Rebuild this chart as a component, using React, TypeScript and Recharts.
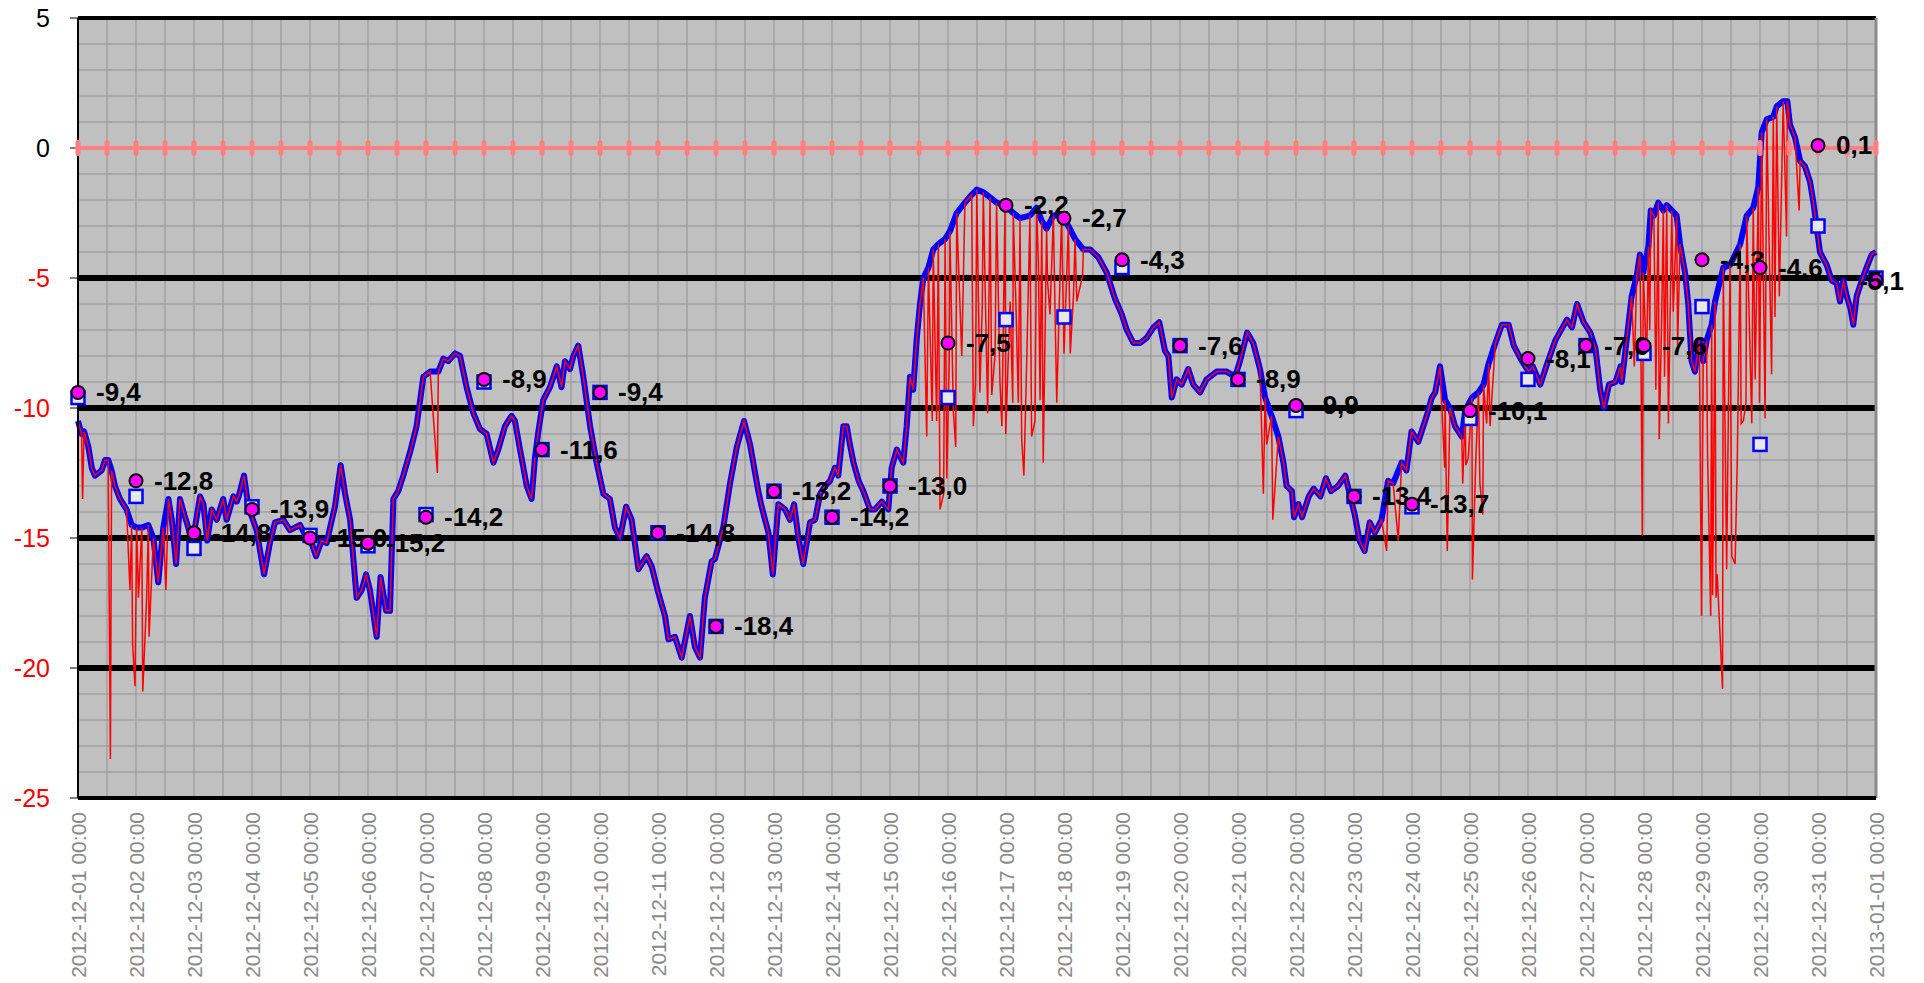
import React from "react";
import {
  ComposedChart,
  Line,
  XAxis,
  YAxis,
  CartesianGrid,
  ReferenceLine,
} from "recharts";

// hours since 2012-12-01 00:00 -> temperature (deg C)
const tempTrace: [number, number][] = [
  [0, -10.5], [1.5, -11.0], [2.5, -10.9], [4.3, -11.5], [5.7, -12.3], [7, -12.6], [9.8, -12.4],
  [11.2, -12.0], [12.5, -12.0], [13.9, -12.4], [15.3, -13.0], [17.4, -13.5], [20.1, -13.9],
  [22.2, -14.5], [24.3, -14.6], [26.4, -14.6], [29.1, -14.5], [31.2, -15.0], [33.2, -16.7],
  [35.3, -14.6], [37.4, -13.5], [38.8, -14.3], [40.6, -16.0], [42.2, -13.5], [44.3, -14.2],
  [46.3, -14.8], [48.4, -14.6], [50.5, -13.4], [51.9, -13.7], [53.5, -15.1], [55.3, -13.9],
  [57.4, -14.3], [60.1, -13.5], [61.5, -14.3], [64.3, -13.4], [65.7, -13.6], [66.5, -13.4],
  [68.7, -12.6], [70.5, -13.8], [73.9, -14.7], [77, -16.4], [79.4, -15.2], [81.5, -14.4],
  [85, -14.3], [87.7, -14.7], [91.9, -14.5], [94.6, -15.0], [96.7, -15.2], [98.5, -15.7],
  [100.8, -15.1], [102.9, -15.2], [104.3, -14.6], [106.3, -13.8], [108.7, -12.2], [110.5, -13.3],
  [112.6, -14.3], [115.3, -17.3], [117.4, -17.0], [119.2, -16.4], [120.8, -17.0], [123.6, -18.8],
  [125.2, -16.5], [127.5, -17.8], [129.1, -17.8], [130.5, -13.5], [132.5, -13.2], [134.6, -12.6],
  [137.4, -11.7], [140.1, -10.7], [142.9, -8.8], [145.7, -8.6], [149.1, -8.6], [151.2, -8.1],
  [153.2, -8.2], [156, -7.9], [158.1, -8.0], [160.8, -9.2], [163.6, -10.2], [166.3, -10.8],
  [169.1, -11.0], [171.9, -12.1], [173.9, -11.6], [176.7, -10.7], [179.4, -10.3], [180.8, -10.5],
  [182.9, -11.6], [185.7, -13.0], [187.7, -13.5], [189.1, -11.9], [190.5, -10.9], [192.5, -9.7],
  [195.3, -9.2], [198.1, -8.4], [200.1, -9.2], [201.5, -8.2], [203.6, -8.5], [205, -8.0],
  [207, -7.6], [209.1, -8.8], [211.9, -10.7], [214.6, -12.1], [217.4, -13.3], [220.1, -13.5],
  [222.2, -14.6], [224.3, -15.0], [226.8, -13.8], [229.1, -14.3], [231.9, -16.2], [235.3, -15.7],
  [237.4, -16.1], [240.1, -17.1], [242.9, -18.0], [244.3, -18.9], [247, -18.8], [249.8, -19.6],
  [253.2, -18.0], [255.3, -19.2], [257.4, -19.6], [259.4, -17.3], [262.2, -15.9], [263.6, -15.8],
  [267, -14.6], [269.8, -12.9], [272.6, -11.5], [275.6, -10.5], [278.1, -11.4], [281.5, -13.2],
  [282.9, -13.8], [285.7, -14.8], [287.5, -16.4], [289.8, -13.7], [292.6, -13.9], [294.6, -14.3],
  [296.3, -13.7], [298.1, -15.0], [300.1, -16.0], [301.5, -15.2], [302.9, -14.4], [305, -14.3],
  [307.1, -13.3], [309.1, -13.0], [311.2, -12.8], [313.2, -12.3], [314.6, -12.6], [316.7, -10.7],
  [318.1, -10.7], [319.4, -11.4], [320.9, -12.1], [323, -12.8], [325, -13.2], [327.7, -13.9],
  [329.8, -13.9], [332.6, -13.6], [335.3, -13.9], [336.7, -12.3], [338.8, -11.6], [341.5, -12.1],
  [342.9, -10.7], [344.3, -8.8], [345.6, -9.3], [347, -7.4], [348.4, -6.0], [349.8, -5.0],
  [351.9, -4.6], [353.9, -3.9], [356, -3.7], [358.8, -3.5], [360.8, -3.2], [363.6, -2.5],
  [367, -2.1], [369.8, -1.8], [371.9, -1.6], [374.6, -1.7], [377.4, -1.9], [380.1, -2.1],
  [383.6, -2.2], [387, -2.5], [389.8, -2.7], [393.9, -2.6], [396.7, -2.3], [398.8, -2.8],
  [400.8, -3.1], [403.6, -2.6], [407, -2.6], [409.8, -3.0], [412.6, -3.5], [416, -3.9],
  [418.8, -3.9], [422.2, -4.2], [425.7, -4.8], [429.1, -5.8], [431.9, -6.4], [434, -7.0],
  [436.7, -7.5], [439.5, -7.5], [442.2, -7.3], [445, -6.9], [447.4, -6.7], [449.8, -7.8],
  [451.2, -8.0], [452.6, -9.6], [454.6, -8.9], [456.7, -9.1], [459.4, -8.5], [461.5, -9.1],
  [464.3, -9.4], [467, -8.9], [471.2, -8.6], [475.3, -8.6], [478.8, -8.8], [480.8, -8.2],
  [483.8, -7.1], [486.3, -7.5], [489.1, -8.5], [491.2, -9.6], [493.9, -10.3], [496.7, -11.1],
  [498.8, -12.1], [500.1, -13.0], [502.3, -13.2], [503.2, -14.2], [505, -13.7], [506.5, -14.2],
  [509.3, -13.4], [511.3, -13.1], [514.1, -13.4], [516.4, -12.7], [518.5, -13.2], [521.4, -13.0],
  [524.4, -12.6], [526.2, -13.3], [528.3, -14.1], [530.3, -15.1], [532.4, -15.5], [534.5, -14.4],
  [536.6, -14.8], [539.4, -14.3], [542.1, -12.8], [544.2, -12.9], [547.7, -12.1], [549.7, -12.4],
  [551.8, -10.9], [554.6, -11.3], [558.1, -10.3], [560.2, -9.6], [561.6, -9.4], [563.6, -8.4],
  [565.7, -9.7], [567.7, -10.0], [569.8, -10.7], [572.6, -11.1], [574, -10.1], [576.8, -9.6],
  [579.5, -9.4], [581.6, -9.1], [583.7, -8.3], [586.5, -7.5], [589.2, -6.8], [592, -6.8],
  [594.1, -7.6], [597.5, -8.2], [600.3, -8.6], [602, -8.4], [605.1, -9.1], [607.9, -8.3],
  [611.3, -7.4], [616.1, -6.6], [618.2, -6.9], [620.3, -6.0], [623, -6.7], [625.8, -7.1],
  [627.9, -7.7], [629.9, -9.3], [631.4, -10.0], [633.5, -9.1], [636.2, -9.0], [638.3, -8.4],
  [638.8, -9.0], [640.8, -7.4], [642.9, -5.7], [645, -4.9], [646.3, -4.1], [647.7, -4.8],
  [649.8, -3.8], [650.8, -2.4], [652.1, -2.6], [653.9, -2.1], [656, -2.4], [657.4, -2.2],
  [659.5, -2.4], [661.5, -2.6], [662.9, -3.7], [665, -4.8], [666.3, -6.0], [667.7, -8.2],
  [669.1, -8.6], [670.9, -7.4], [672.5, -8.2], [673.9, -7.4], [676, -6.8], [677.4, -5.9],
  [680.8, -4.6], [683.6, -4.5], [687.8, -3.7], [690.5, -2.6], [693.2, -2.3], [695.3, -1.5],
  [696.7, 0.6], [698.8, 1.1], [701.5, 1.2], [702.9, 1.6], [705.6, 1.8], [707.3, 1.8],
  [708.4, 0.9], [710.5, 0.4], [712.6, -0.5], [714.6, -0.7], [716.7, -1.3], [718.1, -2.1],
  [719.7, -3.2], [720.8, -4.0], [723.6, -4.5], [725.7, -5.1], [727.7, -5.2], [729.1, -5.9],
  [730.5, -5.1], [731.9, -5.7], [733.5, -6.2], [734.6, -6.8], [736, -5.7], [738.1, -5.1],
  [740.1, -4.6], [742.2, -4.1], [744, -4.0],
];

// short downward dips of the raw reading (hour, lowest value)
const minSpikes: [number, number][] = [
  [1.9, -13.5], [13.4, -23.5], [21.5, -17.0], [22.6, -19.1], [23.6, -20.7], [25.0, -17.3],
  [26.8, -20.9], [28.4, -17.3], [29.4, -18.8], [36.4, -17.0], [148.7, -12.5],
  [351.2, -11.1], [353.5, -10.5], [355.3, -10.5], [356.7, -13.9], [358.2, -13.3], [359.5, -12.7],
  [360.5, -8.2], [362.2, -10.1], [363.2, -11.5], [365.7, -8.0], [370.5, -10.7], [371.4, -9.0],
  [373.2, -9.4], [374.2, -6.0], [376.4, -10.2], [378.1, -9.5], [379.5, -7.9], [381.5, -9.0],
  [382.3, -10.7], [383.9, -11.0], [385.7, -5.9], [386.8, -9.8], [388.1, -6.0], [389.1, -9.8],
  [390.5, -11.2], [391.4, -12.6], [392.6, -8.1], [394.6, -11.1], [396.0, -10.5], [397.4, -4.4],
  [398.1, -9.7], [399.4, -12.1], [401.2, -5.1], [402.2, -6.4], [404.3, -6.3], [405.0, -9.8],
  [406.3, -5.1], [408.0, -7.9], [410.6, -7.9], [411.9, -5.7], [413.3, -5.9], [415.7, -4.9],
  [490.5, -13.3], [491.9, -11.4], [494.4, -14.3], [541.5, -15.5], [546.3, -15.1],
  [565.5, -12.3], [566.6, -15.5], [573.0, -12.9], [574.3, -12.2], [575.3, -11.9], [577.0, -16.6],
  [578.4, -12.0], [580.1, -12.9], [581.3, -14.1], [582.9, -10.6], [584.3, -10.7],
  [644.0, -8.4], [646.6, -6.3], [647.3, -14.9], [649.1, -8.2], [650.4, -7.0], [652.9, -9.3],
  [654.3, -11.2], [655.3, -6.6], [656.5, -8.8], [658.1, -10.6], [660.1, -6.3], [661.9, -7.6],
  [671.8, -18.0], [674.3, -11.8], [675.6, -18.0], [676.4, -17.2], [677.8, -17.3], [678.3, -16.4],
  [680.5, -20.8], [682.2, -16.2], [684.3, -15.7], [685.7, -16.0], [686.6, -12.0], [688.2, -10.6],
  [689.1, -10.5], [690.2, -9.8], [692.6, -10.6], [694.0, -8.9], [695.8, -9.8], [698.1, -10.4],
  [700.8, -8.7], [702.2, -6.5], [704.0, -5.7], [707.0, -3.4], [712.2, -2.4],
];

const dayLabels = [
  "2012-12-01 00:00", "2012-12-02 00:00", "2012-12-03 00:00", "2012-12-04 00:00",
  "2012-12-05 00:00", "2012-12-06 00:00", "2012-12-07 00:00", "2012-12-08 00:00",
  "2012-12-09 00:00", "2012-12-10 00:00", "2012-12-11 00:00", "2012-12-12 00:00",
  "2012-12-13 00:00", "2012-12-14 00:00", "2012-12-15 00:00", "2012-12-16 00:00",
  "2012-12-17 00:00", "2012-12-18 00:00", "2012-12-19 00:00", "2012-12-20 00:00",
  "2012-12-21 00:00", "2012-12-22 00:00", "2012-12-23 00:00", "2012-12-24 00:00",
  "2012-12-25 00:00", "2012-12-26 00:00", "2012-12-27 00:00", "2012-12-28 00:00",
  "2012-12-29 00:00", "2012-12-30 00:00", "2012-12-31 00:00", "2013-01-01 00:00",
];

// magenta circles (labelled) and open squares, one per midnight
const dailyMean = [
  -9.4, -12.8, -14.8, -13.9, -15.0, -15.2, -14.2, -8.9, -11.6, -9.4, -14.8, -18.4, -13.2, -14.2,
  -13.0, -7.5, -2.2, -2.7, -4.3, -7.6, -8.9, -9.9, -13.4, -13.7, -10.1, -8.1, -7.6, -7.6, -4.3,
  -4.6, 0.1, -5.1,
];
const dailyBox = [
  -9.6, -13.4, -15.4, -13.8, -14.9, -15.3, -14.1, -9.0, -11.6, -9.4, -14.8, -18.4, -13.2, -14.2,
  -13.0, -9.6, -6.6, -6.5, -4.6, -7.6, -8.9, -10.1, -13.4, -13.8, -10.4, -8.9, -7.6, -7.9, -6.1,
  -11.4, -3.0, -5.0,
];

// frost line, sampled every 12 hours
const frostLine = [
  0, 0, 0, 0, 0, 0, 0, 0, 0, 0, 0, 0, 0, 0, 0, 0, 0, 0, 0, 0, 0, 0, 0, 0, 0, 0, 0, 0, 0, 0, 0, 0,
  0, 0, 0, 0, 0, 0, 0, 0, 0, 0, 0, 0, 0, 0, 0, 0, 0, 0, 0, 0, 0, 0, 0, 0, 0, 0, 0, 0, 0, 0, 0,
];

const yTicks = [-25, -20, -15, -10, -5, 0, 5];
const majorLines = [-5, -10, -15, -20];
const dayHours = dayLabels.map((_, i) => i * 24);
const gridHours = frostLine.map((_, i) => i * 12);
const gridTemps = [-25, -24, -23, -22, -21, -20, -19, -18, -17, -16, -15, -14, -13, -12, -11, -10,
  -9, -8, -7, -6, -5, -4, -3, -2, -1, 0, 1, 2, 3, 4, 5];

const CHART_W = 1924;
const CHART_H = 983;

type Row = { h: number; temp?: number; raw?: number; frost?: number; mean?: number; box?: number };

const rowMap = new Map<number, Row>();
const rowAt = (h: number) => {
  let r = rowMap.get(h);
  if (!r) {
    r = { h };
    rowMap.set(h, r);
  }
  return r;
};
tempTrace.forEach(([h, v]) => {
  const r = rowAt(h);
  r.temp = v;
  r.raw = v;
});
minSpikes.forEach(([h, v]) => {
  rowAt(h).raw = v;
});
frostLine.forEach((v, i) => {
  rowAt(gridHours[i]).frost = v;
});
dailyMean.forEach((v, i) => {
  const r = rowAt(dayHours[i]);
  r.mean = v;
  r.box = dailyBox[i];
});
const chartData = Array.from(rowMap.values()).sort((a, b) => a.h - b.h);

const FONT = "'Liberation Sans', Arial, sans-serif";

const TempTick = (props: any) => {
  const { x, y, payload } = props;
  return (
    <text
      x={x}
      y={y}
      textAnchor="end"
      dominantBaseline="central"
      fontSize={25}
      fontFamily={FONT}
      fill={payload.value < 0 ? "#FF0000" : "#000000"}
    >
      {payload.value}
    </text>
  );
};

const DayTick = (props: any) => {
  const { x, y, index } = props;
  return (
    <text
      x={x}
      y={y}
      transform={`rotate(-90, ${x}, ${y})`}
      textAnchor="end"
      dominantBaseline="central"
      fontSize={21}
      fontFamily={FONT}
      fill="#8A8A8A"
    >
      {dayLabels[index]}
    </text>
  );
};

const FrostMark = (props: any) => {
  const { cx, cy, index, payload } = props;
  if (payload?.frost == null || cx == null || cy == null) return <g key={`f${index}`} />;
  return <rect key={`f${index}`} x={cx - 2.5} y={cy - 8} width={5} height={16} rx={2.5} fill="#FF8080" />;
};

const BoxMark = (props: any) => {
  const { cx, cy, index, payload } = props;
  if (payload?.box == null || cx == null || cy == null) return <g key={`b${index}`} />;
  return (
    <rect
      key={`b${index}`}
      x={cx - 6.5}
      y={cy - 6.5}
      width={13}
      height={13}
      fill="#E8E8E8"
      stroke="#0000FF"
      strokeWidth={2.5}
    />
  );
};

const MeanMark = (props: any) => {
  const { cx, cy, index, payload } = props;
  if (payload?.mean == null || cx == null || cy == null) return <g key={`m${index}`} />;
  // the last label would run off the right edge, so pull it back like Excel does
  const atEdge = cx + 70 > CHART_W;
  return (
    <g key={`m${index}`}>
      <circle cx={cx} cy={cy} r={6.5} fill="#FF00FF" stroke="#000000" strokeWidth={2} />
      <text
        x={atEdge ? CHART_W - 20 : cx + 18}
        y={cy}
        textAnchor={atEdge ? "end" : "start"}
        dominantBaseline="central"
        fontSize={26}
        fontWeight="bold"
        fontFamily={FONT}
        fill="#000000"
      >
        {payload.mean.toFixed(1).replace(".", ",")}
      </text>
    </g>
  );
};

export default function App() {
  return (
    <div style={{ fontFamily: FONT, position: "absolute", left: 0, top: 0 }}>
      <ComposedChart
        width={CHART_W}
        height={CHART_H}
        data={chartData}
        margin={{ top: 18, right: 48, left: 18, bottom: 5 }}
      >
        <CartesianGrid
          fill="#C0C0C0"
          stroke="#939393"
          strokeWidth={1}
          horizontalValues={gridTemps}
          verticalValues={gridHours}
        />
        <XAxis
          dataKey="h"
          type="number"
          domain={[0, 744]}
          ticks={dayHours}
          interval={0}
          height={180}
          tickSize={0}
          tickMargin={14}
          tick={<DayTick />}
          axisLine={{ stroke: "#000000", strokeWidth: 4 }}
        />
        <YAxis
          type="number"
          domain={[-25, 5]}
          ticks={yTicks}
          interval={0}
          width={60}
          tickSize={8}
          tickMargin={20}
          tick={<TempTick />}
          tickLine={{ stroke: "#000000" }}
          axisLine={{ stroke: "#000000", strokeWidth: 2 }}
          allowDataOverflow
        />
        {majorLines.map((v) => (
          <ReferenceLine key={v} y={v} stroke="#000000" strokeWidth={6} />
        ))}
        <ReferenceLine y={5} stroke="#000000" strokeWidth={4} />
        <ReferenceLine y={-25} stroke="#000000" strokeWidth={4} />
        <ReferenceLine x={744} stroke="#8C8C8C" strokeWidth={3} />
        <Line
          dataKey="frost"
          stroke="#FF8080"
          strokeWidth={4}
          dot={<FrostMark />}
          activeDot={false}
          connectNulls
          isAnimationActive={false}
        />
        <Line
          dataKey="temp"
          type="linear"
          stroke="#0000FF"
          strokeWidth={6}
          strokeLinejoin="round"
          dot={false}
          activeDot={false}
          connectNulls
          isAnimationActive={false}
        />
        <Line
          dataKey="raw"
          type="linear"
          stroke="#FF0000"
          strokeWidth={1.5}
          dot={false}
          activeDot={false}
          connectNulls
          isAnimationActive={false}
        />
        <Line
          dataKey="box"
          stroke="none"
          dot={<BoxMark />}
          activeDot={false}
          connectNulls
          isAnimationActive={false}
        />
        <Line
          dataKey="mean"
          stroke="none"
          dot={<MeanMark />}
          activeDot={false}
          connectNulls
          isAnimationActive={false}
        />
      </ComposedChart>
    </div>
  );
}
